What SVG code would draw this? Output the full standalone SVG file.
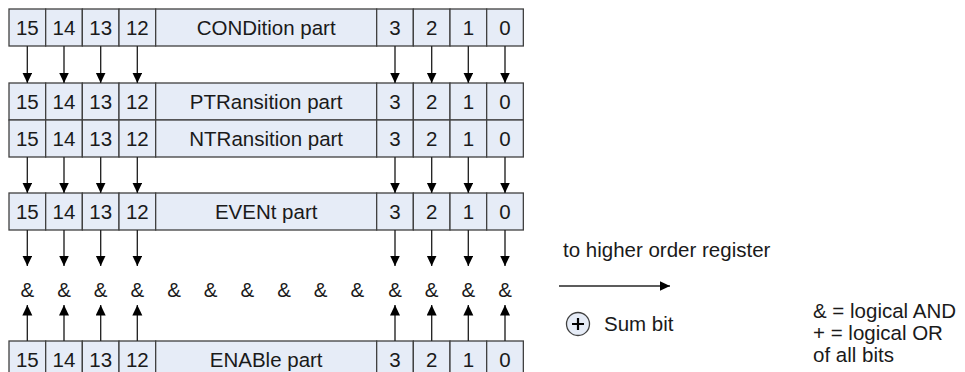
<svg xmlns="http://www.w3.org/2000/svg" width="965" height="372" viewBox="0 0 965 372">
<defs>
<style>
.c{fill:#e6ecf7;stroke:#404040;stroke-width:1.3}
.t{font-family:"Liberation Sans",Arial,sans-serif;font-size:20.5px;fill:#1a1a1a;text-anchor:middle}
.l{font-family:"Liberation Sans",Arial,sans-serif;font-size:20.5px;fill:#1a1a1a}
.a{stroke:#262626;stroke-width:1.4;fill:none;marker-end:url(#ah)}
</style>
<marker id="ah" markerUnits="userSpaceOnUse" markerWidth="12" markerHeight="12" refX="10.5" refY="5" orient="auto">
<path d="M0,0 L10.5,5 L0,10 Z" fill="#000"/>
</marker>
</defs>
<g id="condition">
<rect class="c" x="9" y="9" width="36.67" height="37"/><rect class="c" x="45.67" y="9" width="36.67" height="37"/><rect class="c" x="82.33" y="9" width="36.67" height="37"/><rect class="c" x="119" y="9" width="36.67" height="37"/><rect class="c" x="155.67" y="9" width="221" height="37"/><rect class="c" x="376.67" y="9" width="36.67" height="37"/><rect class="c" x="413.33" y="9" width="36.67" height="37"/><rect class="c" x="450" y="9" width="36.67" height="37"/><rect class="c" x="486.67" y="9" width="36.67" height="37"/>
<text class="t" x="27.33" y="35">15</text><text class="t" x="64" y="35">14</text><text class="t" x="100.67" y="35">13</text><text class="t" x="137.33" y="35">12</text><text class="t" x="266.17" y="35">CONDition part</text><text class="t" x="395" y="35">3</text><text class="t" x="431.67" y="35">2</text><text class="t" x="468.33" y="35">1</text><text class="t" x="505" y="35">0</text>
</g>
<g id="ptransition">
<rect class="c" x="9" y="83" width="36.67" height="37"/><rect class="c" x="45.67" y="83" width="36.67" height="37"/><rect class="c" x="82.33" y="83" width="36.67" height="37"/><rect class="c" x="119" y="83" width="36.67" height="37"/><rect class="c" x="155.67" y="83" width="221" height="37"/><rect class="c" x="376.67" y="83" width="36.67" height="37"/><rect class="c" x="413.33" y="83" width="36.67" height="37"/><rect class="c" x="450" y="83" width="36.67" height="37"/><rect class="c" x="486.67" y="83" width="36.67" height="37"/>
<text class="t" x="27.33" y="109">15</text><text class="t" x="64" y="109">14</text><text class="t" x="100.67" y="109">13</text><text class="t" x="137.33" y="109">12</text><text class="t" x="266.17" y="109">PTRansition part</text><text class="t" x="395" y="109">3</text><text class="t" x="431.67" y="109">2</text><text class="t" x="468.33" y="109">1</text><text class="t" x="505" y="109">0</text>
</g>
<g id="ntransition">
<rect class="c" x="9" y="120" width="36.67" height="37"/><rect class="c" x="45.67" y="120" width="36.67" height="37"/><rect class="c" x="82.33" y="120" width="36.67" height="37"/><rect class="c" x="119" y="120" width="36.67" height="37"/><rect class="c" x="155.67" y="120" width="221" height="37"/><rect class="c" x="376.67" y="120" width="36.67" height="37"/><rect class="c" x="413.33" y="120" width="36.67" height="37"/><rect class="c" x="450" y="120" width="36.67" height="37"/><rect class="c" x="486.67" y="120" width="36.67" height="37"/>
<text class="t" x="27.33" y="146">15</text><text class="t" x="64" y="146">14</text><text class="t" x="100.67" y="146">13</text><text class="t" x="137.33" y="146">12</text><text class="t" x="266.17" y="146">NTRansition part</text><text class="t" x="395" y="146">3</text><text class="t" x="431.67" y="146">2</text><text class="t" x="468.33" y="146">1</text><text class="t" x="505" y="146">0</text>
</g>
<g id="event">
<rect class="c" x="9" y="193" width="36.67" height="37"/><rect class="c" x="45.67" y="193" width="36.67" height="37"/><rect class="c" x="82.33" y="193" width="36.67" height="37"/><rect class="c" x="119" y="193" width="36.67" height="37"/><rect class="c" x="155.67" y="193" width="221" height="37"/><rect class="c" x="376.67" y="193" width="36.67" height="37"/><rect class="c" x="413.33" y="193" width="36.67" height="37"/><rect class="c" x="450" y="193" width="36.67" height="37"/><rect class="c" x="486.67" y="193" width="36.67" height="37"/>
<text class="t" x="27.33" y="219">15</text><text class="t" x="64" y="219">14</text><text class="t" x="100.67" y="219">13</text><text class="t" x="137.33" y="219">12</text><text class="t" x="266.17" y="219">EVENt part</text><text class="t" x="395" y="219">3</text><text class="t" x="431.67" y="219">2</text><text class="t" x="468.33" y="219">1</text><text class="t" x="505" y="219">0</text>
</g>
<g id="enable">
<rect class="c" x="9" y="341" width="36.67" height="37"/><rect class="c" x="45.67" y="341" width="36.67" height="37"/><rect class="c" x="82.33" y="341" width="36.67" height="37"/><rect class="c" x="119" y="341" width="36.67" height="37"/><rect class="c" x="155.67" y="341" width="221" height="37"/><rect class="c" x="376.67" y="341" width="36.67" height="37"/><rect class="c" x="413.33" y="341" width="36.67" height="37"/><rect class="c" x="450" y="341" width="36.67" height="37"/><rect class="c" x="486.67" y="341" width="36.67" height="37"/>
<text class="t" x="27.33" y="367">15</text><text class="t" x="64" y="367">14</text><text class="t" x="100.67" y="367">13</text><text class="t" x="137.33" y="367">12</text><text class="t" x="266.17" y="367">ENABle part</text><text class="t" x="395" y="367">3</text><text class="t" x="431.67" y="367">2</text><text class="t" x="468.33" y="367">1</text><text class="t" x="505" y="367">0</text>
</g>
<g id="and-row">
<text class="t" x="27.33" y="297">&amp;</text><text class="t" x="64" y="297">&amp;</text><text class="t" x="100.67" y="297">&amp;</text><text class="t" x="137.33" y="297">&amp;</text><text class="t" x="174" y="297">&amp;</text><text class="t" x="210.7" y="297">&amp;</text><text class="t" x="247.3" y="297">&amp;</text><text class="t" x="284" y="297">&amp;</text><text class="t" x="320.7" y="297">&amp;</text><text class="t" x="357.3" y="297">&amp;</text><text class="t" x="395" y="297">&amp;</text><text class="t" x="431.67" y="297">&amp;</text><text class="t" x="468.33" y="297">&amp;</text><text class="t" x="505" y="297">&amp;</text>
</g>
<g id="connectors">
<line class="a" x1="27.33" y1="46" x2="27.33" y2="83"/><line class="a" x1="64" y1="46" x2="64" y2="83"/><line class="a" x1="100.67" y1="46" x2="100.67" y2="83"/><line class="a" x1="137.33" y1="46" x2="137.33" y2="83"/><line class="a" x1="395" y1="46" x2="395" y2="83"/><line class="a" x1="431.67" y1="46" x2="431.67" y2="83"/><line class="a" x1="468.33" y1="46" x2="468.33" y2="83"/><line class="a" x1="505" y1="46" x2="505" y2="83"/>
<line class="a" x1="27.33" y1="157" x2="27.33" y2="193"/><line class="a" x1="64" y1="157" x2="64" y2="193"/><line class="a" x1="100.67" y1="157" x2="100.67" y2="193"/><line class="a" x1="137.33" y1="157" x2="137.33" y2="193"/><line class="a" x1="395" y1="157" x2="395" y2="193"/><line class="a" x1="431.67" y1="157" x2="431.67" y2="193"/><line class="a" x1="468.33" y1="157" x2="468.33" y2="193"/><line class="a" x1="505" y1="157" x2="505" y2="193"/>
<line class="a" x1="27.33" y1="230" x2="27.33" y2="266"/><line class="a" x1="64" y1="230" x2="64" y2="266"/><line class="a" x1="100.67" y1="230" x2="100.67" y2="266"/><line class="a" x1="137.33" y1="230" x2="137.33" y2="266"/><line class="a" x1="395" y1="230" x2="395" y2="266"/><line class="a" x1="431.67" y1="230" x2="431.67" y2="266"/><line class="a" x1="468.33" y1="230" x2="468.33" y2="266"/><line class="a" x1="505" y1="230" x2="505" y2="266"/>
<line class="a" x1="27.33" y1="341" x2="27.33" y2="305"/><line class="a" x1="64" y1="341" x2="64" y2="305"/><line class="a" x1="100.67" y1="341" x2="100.67" y2="305"/><line class="a" x1="137.33" y1="341" x2="137.33" y2="305"/><line class="a" x1="395" y1="341" x2="395" y2="305"/><line class="a" x1="431.67" y1="341" x2="431.67" y2="305"/><line class="a" x1="468.33" y1="341" x2="468.33" y2="305"/><line class="a" x1="505" y1="341" x2="505" y2="305"/>
</g>
<g id="legend-arrow">
<text class="l" x="563" y="257">to higher order register</text>
<line class="a" x1="559" y1="286" x2="670" y2="286"/>
</g>
<g id="legend-sum">
<circle cx="578" cy="324" r="11.5" fill="#e6ecf7" stroke="#404040" stroke-width="1.3"/>
<path d="M572,324H584M578,318V330" stroke="#000" stroke-width="2.2"/>
<text class="l" x="604" y="331">Sum bit</text>
</g>
<g id="legend-text">
<text class="l" x="813" y="318">&amp; = logical AND</text>
<text class="l" x="813" y="340">+ = logical OR</text>
<text class="l" x="813" y="362">of all bits</text>
</g>
</svg>
